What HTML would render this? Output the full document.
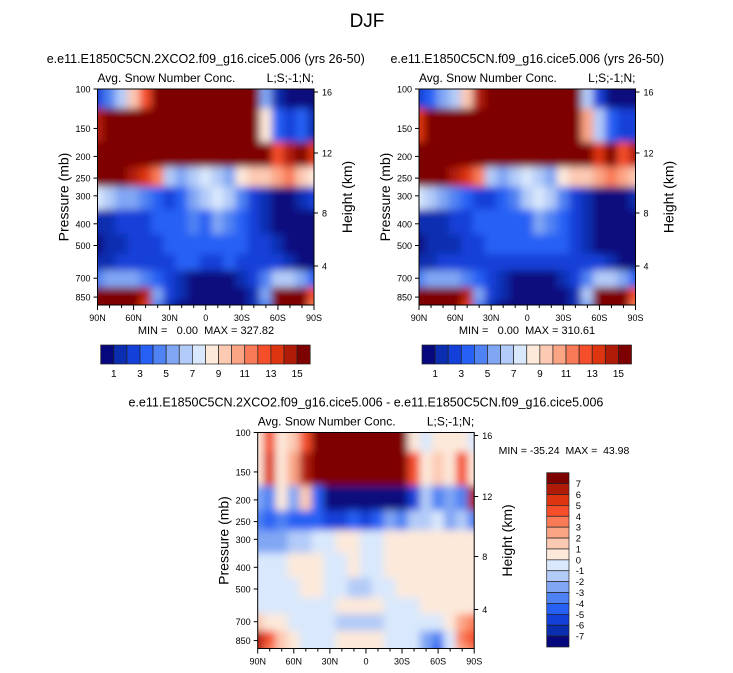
<!DOCTYPE html>
<html><head><meta charset="utf-8">
<style>
html,body{margin:0;padding:0;background:#fff;}
svg{display:block;font-family:"Liberation Sans",sans-serif;}
</style></head>
<body>
<svg id="root" width="733" height="673" viewBox="0 0 733 673">
<defs>
<filter id="bl" filterUnits="userSpaceOnUse" x="0" y="0" width="733" height="673"><feGaussianBlur stdDeviation="4"/></filter>
</defs>
<text x="367" y="27" font-size="19" text-anchor="middle">DJF</text>
</svg>
<script>
// ---- data ----
const lats = [90,80,70,60,50,40,30,20,10,0,-10,-20,-30,-40,-50,-60,-70,-80,-90];
const pressures = [100,150,200,250,300,400,500,600,700,850,925];
const pressureTicks = [100,150,200,250,300,400,500,700,850];
const heightTicks = [16,12,8,4];
const heightTickY = [92,153,213,266];
const latTickLabels = ['90N','60N','30N','0','30S','60S','90S'];
const latTickValues = [90,60,30,0,-30,-60,-90];
const barLabelsTop = ['1','3','5','7','9','11','13','15'];
const barLabelsDiff = ['7','6','5','4','3','2','1','0','-1','-2','-3','-4','-5','-6','-7'];
const palette = ['#07077e','#0b2db0','#1240d8','#2760f4','#4f82f3','#80a6f4','#b2cbf8','#d9e8fc','#fde9da','#fcc9b2','#fba585','#f97a57','#f44e2b','#dd3510','#b01b07','#7e0101'];
const fieldA = [
[2,4,6,9,12,15,15,15,15,15,15,15,15,15,5,1,0,0,0],
[14,15,15,15,15,15,15,15,15,15,15,15,15,15,8,3,2,3,1],
[15,15,15,15,15,15,15,15,15,15,15,15,15,15,15,12,14,15,13],
[15,15,15,14,13,11,6,5,6,7,6,5,8,9,9,10,11,9,8],
[7,6,5,5,4,3,2,3,5,6,7,6,4,2,1,0,0,1,2],
[1,1,2,2,2,3,3,3,4,3,5,4,3,2,1,0,0,0,0],
[0,1,1,2,2,2,3,3,3,3,3,3,3,2,2,1,0,0,0],
[1,1,2,2,2,2,2,3,3,2,2,3,2,2,2,2,1,0,0],
[4,5,5,5,4,3,2,1,0,0,0,0,1,2,4,6,6,5,3],
[15,15,15,15,14,5,2,1,0,0,0,0,0,1,5,15,15,15,12],
[15,15,15,15,13,4,1,0,0,0,0,0,0,1,4,15,15,15,11]];
const fieldB = [
[2,3,5,6,9,14,15,15,15,15,15,15,15,15,6,2,0,0,0],
[13,15,15,15,15,15,15,15,15,15,15,15,15,15,10,6,3,2,2],
[15,15,15,15,15,15,15,15,15,15,15,15,15,15,15,13,15,12,14],
[15,15,15,14,13,11,6,5,6,7,6,5,8,9,9,10,11,10,9],
[7,6,5,4,3,2,2,3,4,6,7,6,4,2,1,0,0,0,1],
[1,1,1,2,2,3,3,3,3,3,5,4,3,2,1,0,0,0,0],
[0,1,1,1,2,2,3,3,3,3,3,3,3,2,1,0,0,0,0],
[1,1,2,2,2,2,2,2,2,2,2,2,2,2,2,2,1,0,0],
[4,5,5,5,4,3,2,1,0,0,0,0,1,2,4,6,6,5,3],
[15,15,15,15,14,5,2,1,0,0,0,0,0,1,6,15,15,15,12],
[15,15,15,15,13,4,1,0,0,0,0,0,0,1,5,15,15,15,11]];
const fieldDiff = [
[8,12,8,9,12,15,15,15,15,15,15,15,15,8,7,8,8,8,7],
[8,13,8,10,14,15,15,15,15,15,15,15,15,12,8,9,8,12,8],
[5,4,8,5,9,3,0,0,0,0,0,0,0,2,6,4,5,4,14],
[4,3,4,3,3,3,2,2,3,2,3,5,4,6,6,7,5,6,4],
[5,5,5,6,6,7,7,8,8,7,7,8,8,8,8,8,8,8,8],
[7,7,7,8,8,8,7,7,8,7,7,8,8,8,8,8,8,8,8],
[7,7,7,7,8,8,7,7,6,6,7,7,8,8,8,8,8,8,8],
[7,7,7,7,7,7,7,8,8,8,8,7,7,7,8,8,8,8,8],
[9,8,8,7,7,7,7,6,6,6,6,7,7,7,7,7,8,10,11],
[14,12,9,8,7,7,7,8,8,8,8,7,7,7,5,4,7,11,12],
[14,11,9,8,7,7,7,8,8,8,8,7,7,7,5,3,7,10,11]];

// ---- drawing ----
const NS='http://www.w3.org/2000/svg';
const root=document.getElementById('root');
function mk(tag,attrs,parent){const e=document.createElementNS(NS,tag);for(const k in attrs)e.setAttribute(k,attrs[k]);(parent||root).appendChild(e);return e;}
function txt(x,y,s,size,anchor,parent){const t=mk('text',{x:x,y:y,'font-size':size,'text-anchor':anchor||'middle'},parent);t.setAttribute('xml:space','preserve');t.style.whiteSpace='pre';t.textContent=s;return t;}

function panel(id,px,py,field,title,minmax,mmx,mmy){
  const W=216.5,H=216;
  const pTop=100,pBot=922;
  const ys=p=>py+H*Math.log(p/pTop)/Math.log(pBot/pTop);
  const xs=l=>px+W*(90-l)/180;
  const g=mk('g',{});
  
  
  const cp=mk('clipPath',{id:id+'clip'},g);
  mk('rect',{x:px,y:py,width:W,height:H},cp);
  const cells=mk('g',{'clip-path':'url(#'+id+'clip)'},g);
  const inner=mk('g',{filter:'url(#bl)'},cells);
  for(let r=0;r<pressures.length;r++){
    const pa=r===0?70:Math.sqrt(pressures[r-1]*pressures[r]);
    const pb=r===pressures.length-1?1200:Math.sqrt(pressures[r]*pressures[r+1]);
    for(let c=0;c<lats.length;c++){
      const la=c===0?100:lats[c]+5, lb=c===lats.length-1?-100:lats[c]-5;
      const x1=xs(la),x2=xs(lb),y1=ys(pa),y2=ys(pb);
      const rc=mk('rect',{x:x1-0.3,y:y1-0.3,width:x2-x1+0.6,height:y2-y1+0.6,fill:palette[field[r][c]]},inner);
      
      
    }
  }
  mk('rect',{x:px,y:py,width:W,height:H,fill:'none',stroke:'#000','stroke-width':1},g);
  pressureTicks.forEach(p=>{const y=ys(p);mk('line',{x1:px-4,x2:px,y1:y,y2:y,stroke:'#000'},g);txt(px-7,y+3.5,String(p),9,'end',g);});
  heightTicks.forEach((h,i)=>{const y=heightTickY[i]+(py-89);mk('line',{x1:px+W,x2:px+W+4,y1:y,y2:y,stroke:'#000'},g);txt(px+W+8,y+3.5,String(h),9,'start',g);});
  for(let l=90;l>=-90;l-=10){const x=xs(l);const big=l%30===0;mk('line',{x1:x,x2:x,y1:py+H,y2:py+H+(big?5:3),stroke:'#000'},g);}
  latTickValues.forEach((l,i)=>txt(xs(l),py+H+16,latTickLabels[i],9,'middle',g));
  const yl=txt(0,0,'Pressure (mb)',14,'middle',g);yl.setAttribute('transform','translate('+(px-29)+','+(py+H/2)+') rotate(-90)');
  const yr=txt(0,0,'Height (km)',14,'middle',g);yr.setAttribute('transform','translate('+(px+W+38)+','+(py+H/2)+') rotate(-90)');
  txt(px,py-7,'Avg. Snow Number Conc.',12,'start',g);
  txt(px+W,py-7,'L;S;-1;N;',12,'end',g);
  txt(px+W/2,py-26,title,12.5,'middle',g);
  if(minmax) txt(mmx,mmy,minmax,11,'middle',g);
}
function hbar(id,x0,y0,labels){
  const g=mk('g',{});
  
  
  const w=209.5/16;
  palette.forEach((c,i)=>{const r=mk('rect',{x:x0+i*w,y:y0,width:w,height:19,fill:c,stroke:'#222','stroke-width':0.7},g);});
  labels.forEach((s,i)=>txt(x0+(i*2+1)*w,y0+32,s,10,'middle',g));
}
panel('top-left',97.5,89,fieldA,'e.e11.E1850C5CN.2XCO2.f09_g16.cice5.006 (yrs 26-50)','MIN =   0.00  MAX = 327.82',206,334);
panel('top-right',419,89,fieldB,'e.e11.E1850C5CN.f09_g16.cice5.006 (yrs 26-50)','MIN =   0.00  MAX = 310.61',527,334);
panel('difference',257.7,432.5,fieldDiff,'e.e11.E1850C5CN.2XCO2.f09_g16.cice5.006 - e.e11.E1850C5CN.f09_g16.cice5.006','',0,0);
txt(564,454,'MIN = -35.24  MAX =  43.98',10.5,'middle');
hbar('colorbar-top-left',100.7,345,barLabelsTop);
hbar('colorbar-top-right',422,345,barLabelsTop);
(function(){
  const g=mk('g',{});
  
  
  const x0=546.7,y0=472.7,h=174.3/16;
  for(let i=0;i<16;i++){const r=mk('rect',{x:x0,y:y0+i*h,width:22.3,height:h,fill:palette[15-i],stroke:'#222','stroke-width':0.7},g);}
  barLabelsDiff.forEach((s,i)=>txt(x0+29,y0+(i+1)*h+3.5,s,9.5,'start',g));
})();
</script>
</body></html>
